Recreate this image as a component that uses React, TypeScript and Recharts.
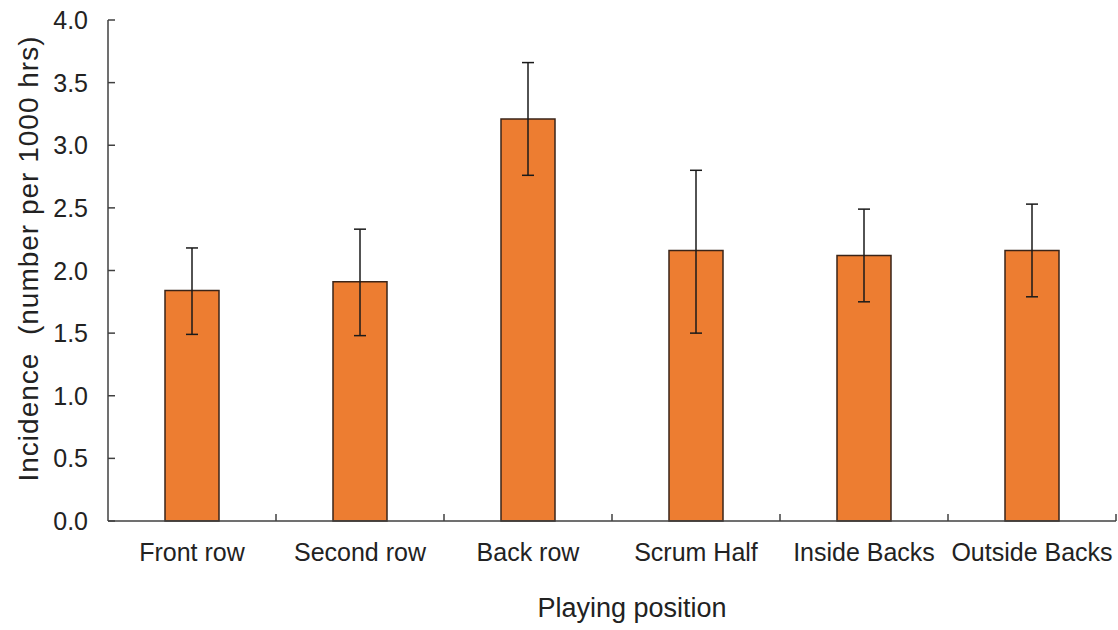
import { BarChart, Bar, XAxis, YAxis, ErrorBar, Label } from 'recharts';

const positions = ['Front row', 'Second row', 'Back row', 'Scrum Half', 'Inside Backs', 'Outside Backs'];
const incidence = [1.84, 1.91, 3.21, 2.16, 2.12, 2.16];
const lowerCI = [1.49, 1.48, 2.76, 1.5, 1.75, 1.79];
const upperCI = [2.18, 2.33, 3.66, 2.8, 2.49, 2.53];
const yTicks = [0, 0.5, 1, 1.5, 2, 2.5, 3, 3.5, 4];

const WIDTH = 1118;
const HEIGHT = 630;
const MARGIN = { top: 20, right: 2, bottom: 0, left: 0 };
const Y_AXIS_W = 108;
const X_AXIS_H = 109;
const STEP = (WIDTH - MARGIN.left - MARGIN.right - Y_AXIS_W) / positions.length;

const FONT = '"Liberation Sans", Arial, sans-serif';
const TEXT = '#222';
const AXIS = '#404040';

const data = positions.map((name, i) => ({
    name,
    value: incidence[i],
    err: [incidence[i] - lowerCI[i], upperCI[i] - incidence[i]],
}));

// category label plus a small inward tick on the right-hand category boundary
function XTick({ x, y, payload }: any) {
    const bx = x + STEP / 2;
    return (
        <g>
            <line x1={bx} y1={y} x2={bx} y2={y - 7} stroke={AXIS} strokeWidth={1.5} />
            <text x={x} y={y + 31} textAnchor="middle" dominantBaseline="central"
                fontFamily={FONT} fontSize={25} fill={TEXT}>
                {payload.value}
            </text>
        </g>
    );
}

// value label on the left, tick pointing into the plot
function YTick({ x, y, payload }: any) {
    return (
        <g>
            <line x1={x} y1={y} x2={x + 7} y2={y} stroke={AXIS} strokeWidth={1.5} />
            <text x={x - 20} y={y} textAnchor="end" dominantBaseline="central"
                fontFamily={FONT} fontSize={25} fill={TEXT}>
                {Number(payload.value).toFixed(1)}
            </text>
        </g>
    );
}

export default function App() {
    return (
        <div style={{ position: 'absolute', left: 0, top: 0, background: '#fff' }}>
            <BarChart width={WIDTH} height={HEIGHT} data={data} margin={MARGIN}>
                <XAxis
                    dataKey="name"
                    height={X_AXIS_H}
                    axisLine={{ stroke: AXIS, strokeWidth: 1.5 }}
                    tickLine={false}
                    tickSize={0}
                    tickMargin={0}
                    interval={0}
                    tick={<XTick />}
                >
                    <Label
                        content={({ viewBox }: any) => (
                            <text x={viewBox.x + viewBox.width / 2 + 20} y={viewBox.y + 87}
                                textAnchor="middle" dominantBaseline="central"
                                fontFamily={FONT} fontSize={27} fill={TEXT}>
                                Playing position
                            </text>
                        )}
                    />
                </XAxis>
                <YAxis
                    width={Y_AXIS_W}
                    domain={[0, 4]}
                    ticks={yTicks}
                    interval={0}
                    axisLine={{ stroke: AXIS, strokeWidth: 1.5 }}
                    tickLine={false}
                    tickSize={0}
                    tickMargin={0}
                    tick={<YTick />}
                >
                    <Label
                        content={({ viewBox }: any) => {
                            const cx = viewBox.x + 28;
                            const cy = viewBox.y + viewBox.height / 2 - 12;
                            return (
                                <text x={cx} y={cy} transform={`rotate(-90, ${cx}, ${cy})`}
                                    textAnchor="middle" dominantBaseline="central"
                                    fontFamily={FONT} fontSize={28} letterSpacing={1} fill={TEXT}>
                                    {'Incidence\u00a0 (number per 1000 hrs)'}
                                </text>
                            );
                        }}
                    />
                </YAxis>
                <Bar dataKey="value" fill="#ED7D31" stroke="#3a2418" strokeWidth={1.5}
                    barSize={54} isAnimationActive={false}>
                    <ErrorBar dataKey="err" width={6} stroke="#1a1a1a" strokeWidth={1.5} />
                </Bar>
            </BarChart>
        </div>
    );
}
